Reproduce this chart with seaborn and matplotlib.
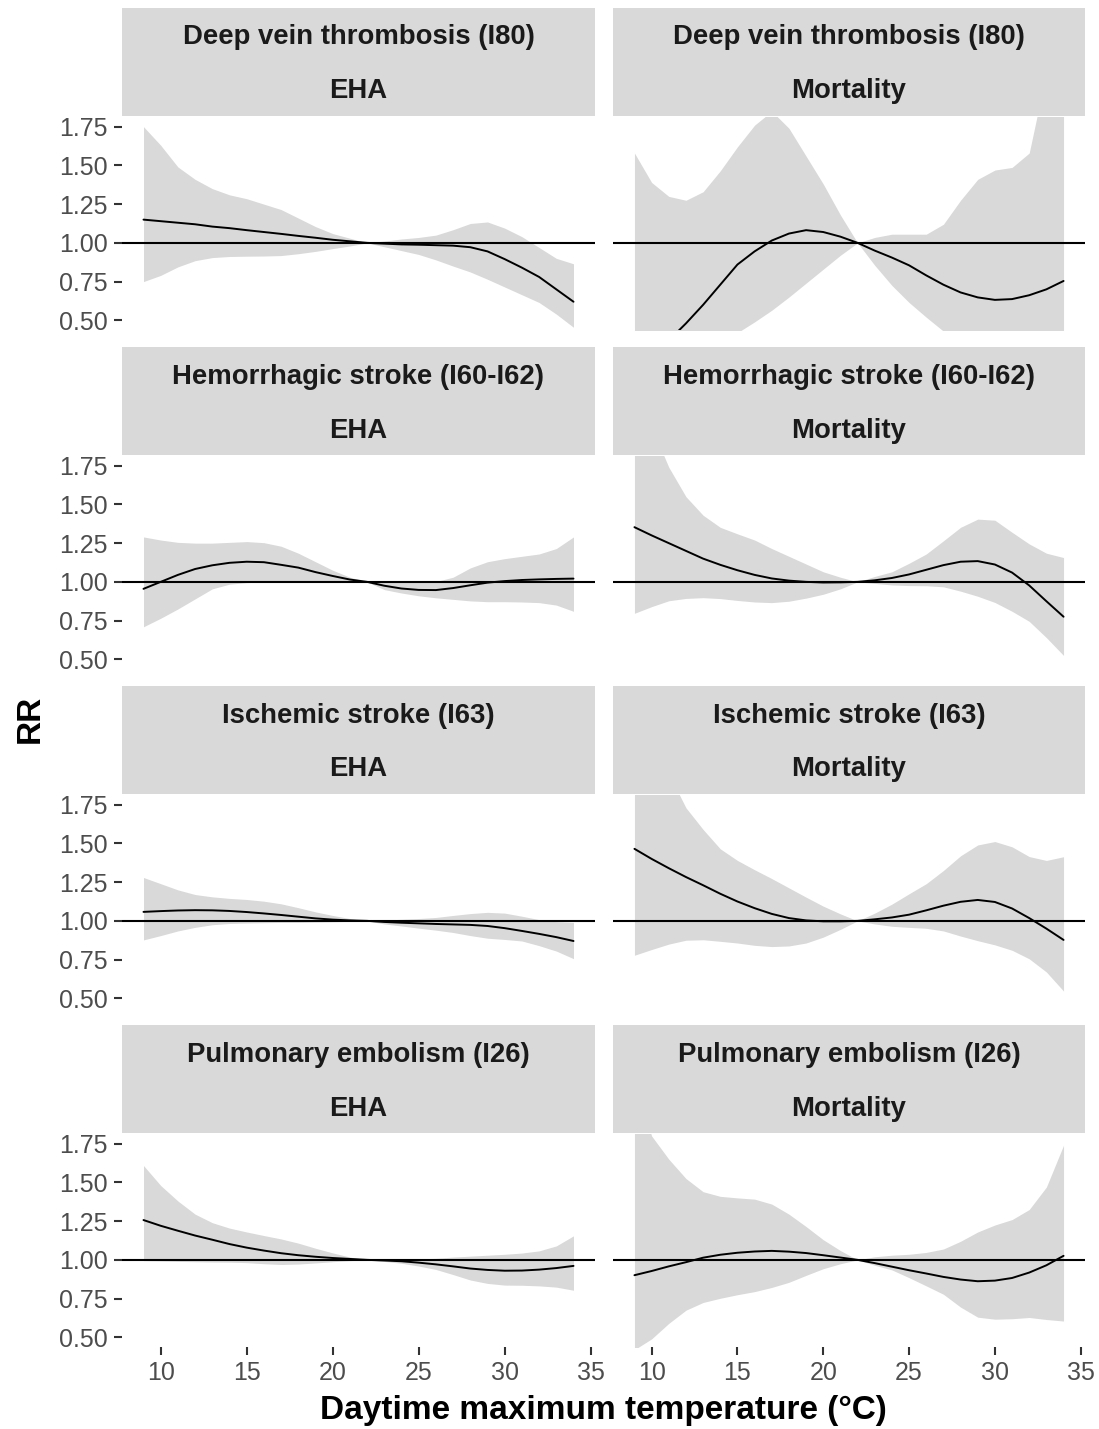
import pandas as pd
import matplotlib
matplotlib.use("Agg")
import matplotlib.pyplot as plt
from matplotlib.patches import Rectangle
import seaborn as sns

sns.set_theme(style="white")
plt.rcParams["font.family"] = ["Liberation Sans", "DejaVu Sans"]

# Daytime maximum temperature (°C)
temperature = list(range(9, 35))

outcomes = ["Deep vein thrombosis (I80)", "Hemorrhagic stroke (I60-I62)",
            "Ischemic stroke (I63)", "Pulmonary embolism (I26)"]
sources = ["EHA", "Mortality"]

y_ticks = [0.50, 0.75, 1.00, 1.25, 1.50, 1.75]
y_tick_labels = ["0.50", "0.75", "1.00", "1.25", "1.50", "1.75"]
x_ticks = [10, 15, 20, 25, 30, 35]

# ---- Deep vein thrombosis ----
dvt_eha_rr = [1.15, 1.14, 1.13, 1.12, 1.105, 1.095, 1.082, 1.07, 1.058, 1.045, 1.033, 1.02, 1.01,
              1.0, 0.995, 0.99, 0.988, 0.985, 0.982, 0.972, 0.945, 0.895, 0.84, 0.78, 0.70, 0.62]
dvt_eha_lo = [0.75, 0.79, 0.845, 0.885, 0.905, 0.912, 0.914, 0.915, 0.918, 0.93, 0.945, 0.963, 0.98,
              1.0, 0.975, 0.95, 0.925, 0.89, 0.85, 0.812, 0.765, 0.715, 0.665, 0.615, 0.54, 0.455]
dvt_eha_hi = [1.75, 1.63, 1.49, 1.41, 1.35, 1.31, 1.285, 1.25, 1.215, 1.16, 1.105, 1.06, 1.03,
              1.0, 1.012, 1.025, 1.035, 1.05, 1.085, 1.125, 1.135, 1.095, 1.04, 0.97, 0.90, 0.865]

dvt_mort_rr = [0.16, 0.26, 0.37, 0.48, 0.60, 0.73, 0.86, 0.945, 1.015, 1.06, 1.082, 1.07, 1.04,
               1.0, 0.95, 0.905, 0.855, 0.79, 0.73, 0.68, 0.648, 0.632, 0.637, 0.662, 0.70, 0.754]
dvt_mort_lo = [0.26, 0.27, 0.28, 0.30, 0.33, 0.37, 0.42, 0.49, 0.565, 0.65, 0.74, 0.83, 0.92,
               1.0, 0.855, 0.725, 0.615, 0.52, 0.43, 0.36, 0.32, 0.30, 0.30, 0.31, 0.33, 0.35]
dvt_mort_hi = [1.58, 1.39, 1.30, 1.275, 1.33, 1.465, 1.62, 1.76, 1.85, 1.74, 1.56, 1.38, 1.18,
               1.0, 1.035, 1.056, 1.056, 1.056, 1.12, 1.275, 1.41, 1.47, 1.487, 1.58, 2.1, 2.3]

# ---- Hemorrhagic stroke ----
hem_eha_rr = [0.955, 1.0, 1.045, 1.083, 1.107, 1.123, 1.13, 1.127, 1.11, 1.092, 1.063, 1.038, 1.015,
              1.0, 0.975, 0.957, 0.948, 0.947, 0.96, 0.978, 0.995, 1.005, 1.012, 1.016, 1.019, 1.021]
hem_eha_lo = [0.71, 0.765, 0.825, 0.89, 0.955, 0.985, 0.995, 1.0, 1.002, 1.003, 1.003, 1.002, 1.001,
              1.0, 0.95, 0.928, 0.91, 0.897, 0.887, 0.877, 0.872, 0.872, 0.87, 0.866, 0.85, 0.81]
hem_eha_hi = [1.29, 1.27, 1.255, 1.25, 1.25, 1.255, 1.26, 1.253, 1.23, 1.185, 1.13, 1.075, 1.03,
              1.0, 1.0, 1.0, 1.0, 1.002, 1.03, 1.09, 1.13, 1.15, 1.165, 1.18, 1.215, 1.29]

hem_mort_rr = [1.353, 1.30, 1.25, 1.20, 1.15, 1.11, 1.075, 1.045, 1.022, 1.008, 1.0, 0.996, 0.997,
               1.0, 1.01, 1.025, 1.048, 1.078, 1.108, 1.13, 1.134, 1.112, 1.06, 0.977, 0.875, 0.775]
hem_mort_lo = [0.797, 0.84, 0.878, 0.893, 0.898, 0.892, 0.88, 0.87, 0.866, 0.875, 0.895, 0.92, 0.955,
               1.0, 0.99, 0.98, 0.976, 0.975, 0.968, 0.94, 0.907, 0.867, 0.81, 0.745, 0.64, 0.525]
hem_mort_hi = [2.3, 2.0, 1.74, 1.55, 1.43, 1.352, 1.31, 1.27, 1.215, 1.165, 1.115, 1.065, 1.03,
               1.0, 1.035, 1.065, 1.12, 1.18, 1.265, 1.352, 1.405, 1.398, 1.32, 1.245, 1.185, 1.157]

# ---- Ischemic stroke ----
isc_eha_rr = [1.058, 1.063, 1.067, 1.069, 1.068, 1.064, 1.057, 1.048, 1.038, 1.027, 1.016, 1.008, 1.003,
              1.0, 0.993, 0.988, 0.984, 0.98, 0.977, 0.974, 0.967, 0.953, 0.935, 0.916, 0.895, 0.87]
isc_eha_lo = [0.877, 0.905, 0.935, 0.958, 0.975, 0.983, 0.986, 0.988, 0.99, 0.99, 0.992, 0.994, 0.997,
              1.0, 0.98, 0.967, 0.953, 0.94, 0.925, 0.905, 0.888, 0.88, 0.87, 0.84, 0.805, 0.756]
isc_eha_hi = [1.28, 1.24, 1.20, 1.17, 1.155, 1.145, 1.138, 1.127, 1.11, 1.085, 1.058, 1.035, 1.015,
              1.0, 1.005, 1.01, 1.015, 1.022, 1.035, 1.047, 1.055, 1.05, 1.03, 1.008, 0.995, 0.99]

isc_mort_rr = [1.465, 1.40, 1.34, 1.283, 1.23, 1.175, 1.125, 1.082, 1.045, 1.018, 1.003, 0.997, 0.997,
               1.0, 1.01, 1.022, 1.04, 1.068, 1.098, 1.123, 1.135, 1.122, 1.08, 1.018, 0.95, 0.877]
isc_mort_lo = [0.778, 0.815, 0.85, 0.875, 0.878, 0.868, 0.857, 0.842, 0.834, 0.838, 0.857, 0.895, 0.945,
               1.0, 0.98, 0.965, 0.958, 0.952, 0.935, 0.902, 0.872, 0.845, 0.81, 0.755, 0.67, 0.547]
isc_mort_hi = [2.35, 2.1, 1.95, 1.73, 1.59, 1.465, 1.39, 1.33, 1.273, 1.213, 1.153, 1.095, 1.045,
               1.0, 1.05, 1.108, 1.175, 1.24, 1.325, 1.42, 1.49, 1.512, 1.478, 1.415, 1.39, 1.414]

# ---- Pulmonary embolism ----
pe_eha_rr = [1.257, 1.22, 1.188, 1.157, 1.13, 1.102, 1.079, 1.06, 1.043, 1.03, 1.02, 1.012, 1.006,
             1.0, 0.996, 0.991, 0.982, 0.971, 0.958, 0.944, 0.935, 0.93, 0.931, 0.937, 0.947, 0.961]
pe_eha_lo = [0.995, 0.993, 0.99, 0.988, 0.986, 0.985, 0.982, 0.975, 0.97, 0.973, 0.98, 0.988, 0.995,
             1.0, 0.99, 0.978, 0.96, 0.938, 0.905, 0.87, 0.848, 0.837, 0.836, 0.832, 0.824, 0.804]
pe_eha_hi = [1.609, 1.48, 1.38, 1.295, 1.24, 1.205, 1.18, 1.157, 1.135, 1.108, 1.075, 1.045, 1.018,
             1.0, 1.0, 1.003, 1.006, 1.01, 1.018, 1.024, 1.03, 1.036, 1.044, 1.058, 1.09, 1.155]

pe_mort_rr = [0.901, 0.928, 0.958, 0.985, 1.014, 1.033, 1.046, 1.054, 1.058, 1.053, 1.044, 1.03, 1.015,
              1.0, 0.979, 0.956, 0.933, 0.912, 0.89, 0.873, 0.862, 0.866, 0.883, 0.918, 0.965, 1.026]
pe_mort_lo = [0.42, 0.49, 0.59, 0.675, 0.725, 0.752, 0.775, 0.795, 0.822, 0.855, 0.90, 0.943, 0.975,
              1.0, 0.965, 0.935, 0.885, 0.832, 0.778, 0.695, 0.63, 0.617, 0.62, 0.628, 0.615, 0.605]
pe_mort_hi = [2.15, 1.80, 1.65, 1.525, 1.44, 1.41, 1.40, 1.392, 1.36, 1.295, 1.215, 1.13, 1.06,
              1.0, 1.02, 1.03, 1.036, 1.048, 1.07, 1.12, 1.18, 1.225, 1.26, 1.325, 1.47, 1.74]

series = {
    (outcomes[0], "EHA"): (dvt_eha_rr, dvt_eha_lo, dvt_eha_hi),
    (outcomes[0], "Mortality"): (dvt_mort_rr, dvt_mort_lo, dvt_mort_hi),
    (outcomes[1], "EHA"): (hem_eha_rr, hem_eha_lo, hem_eha_hi),
    (outcomes[1], "Mortality"): (hem_mort_rr, hem_mort_lo, hem_mort_hi),
    (outcomes[2], "EHA"): (isc_eha_rr, isc_eha_lo, isc_eha_hi),
    (outcomes[2], "Mortality"): (isc_mort_rr, isc_mort_lo, isc_mort_hi),
    (outcomes[3], "EHA"): (pe_eha_rr, pe_eha_lo, pe_eha_hi),
    (outcomes[3], "Mortality"): (pe_mort_rr, pe_mort_lo, pe_mort_hi),
}

frames = []
for (outcome, source), (rr, lo, hi) in series.items():
    frames.append(pd.DataFrame({"temperature": temperature, "rr": rr, "lower": lo,
                                "upper": hi, "outcome": outcome, "source": source}))
df = pd.concat(frames, ignore_index=True)

# ---- layout (pixel based) ----
W, H = 1099, 1429
fig = plt.figure(figsize=(W / 100, H / 100), dpi=100)
fig.patch.set_facecolor("white")

STRIP = "#D9D9D9"
RIBBON = "#D9D9D9"
col_x = [(122, 595), (613, 1085)]
pitch = 339

for r, outcome in enumerate(outcomes):
    for c, source in enumerate(sources):
        x0, x1 = col_x[c]
        top, bot = 117 + r * pitch, 330 + r * pitch
        ax = fig.add_axes([x0 / W, 1 - bot / H, (x1 - x0) / W, (bot - top) / H])
        ax.set_facecolor("white")
        sub = df[(df["outcome"] == outcome) & (df["source"] == source)]

        ax.fill_between(sub["temperature"], sub["lower"], sub["upper"],
                        color=RIBBON, lw=0, zorder=1)
        ax.axhline(1.0, color="black", lw=1.5, zorder=2)
        sns.lineplot(data=sub, x="temperature", y="rr", ax=ax, color="black",
                     lw=1.4, estimator=None, zorder=3)

        ax.set_xlim(7.75, 35.25)
        ax.set_ylim(0.4375, 1.8125)
        ax.set_xlabel("")
        ax.set_ylabel("")
        ax.grid(False)
        for s in ax.spines.values():
            s.set_visible(False)

        ax.set_xticks(x_ticks)
        ax.set_yticks(y_ticks)
        ax.set_yticklabels(y_tick_labels)
        ax.tick_params(axis="both", length=5.5, width=1.5, color="#333333",
                       labelcolor="#4D4D4D", labelsize=18)
        ax.tick_params(axis="y", left=c == 0, labelleft=c == 0, pad=5)
        last_row = r == len(outcomes) - 1
        ax.tick_params(axis="x", bottom=last_row, labelbottom=last_row, pad=4.5)

        # two-level facet strip
        s_top = 8 + r * pitch
        fig.patches.append(Rectangle((x0 / W, 1 - (s_top + 108) / H), (x1 - x0) / W, 108 / H,
                                     transform=fig.transFigure, facecolor=STRIP,
                                     edgecolor="none", zorder=0))
        fig.text((x0 + x1) / 2 / W, 1 - (s_top + 29.5) / H, outcome, ha="center", va="center",
                 fontsize=19.8, fontweight="bold", color="#1A1A1A")
        fig.text((x0 + x1) / 2 / W, 1 - (s_top + 83.5) / H, source, ha="center", va="center",
                 fontsize=19.8, fontweight="bold", color="#1A1A1A")

fig.text(603 / W, 1 - 1411 / H, "Daytime maximum temperature (°C)", ha="center",
         va="center", fontsize=24, fontweight="bold", color="black")
fig.text(30 / W, 1 - 719 / H, "RR", ha="center", va="center", rotation=90,
         fontsize=24, fontweight="bold", color="black")

fig.savefig("out.png", dpi=100, facecolor="white")
